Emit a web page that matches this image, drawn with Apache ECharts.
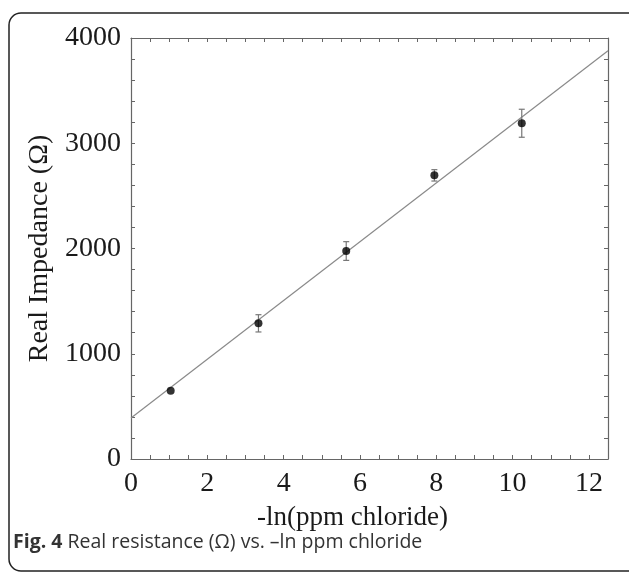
<!DOCTYPE html>
<html>
<head>
<meta charset="utf-8">
<script src="https://cdn.jsdelivr.net/npm/echarts@6/dist/echarts.min.js"></script>
<style>
html,body{margin:0;padding:0;background:#fff;}
#chart{width:629px;height:573px;}
</style>
</head>
<body>
<div id="chart"></div>
<script>
// Data
var xValues = [1.04, 3.34, 5.64, 7.95, 10.24];
var yValues = [649, 1289, 1976, 2695, 3190];
var yErrors = [0, 82, 89, 54, 133];
var fitX = [0, 12.5];
var fitY = [390, 3878];
var xTickLabels = [0, 2, 4, 6, 8, 10, 12];
var yTickLabels = [0, 1000, 2000, 3000, 4000];

var points = xValues.map(function (x, i) { return [x, yValues[i]]; });
var errData = xValues.map(function (x, i) { return [x, yValues[i] - yErrors[i], yValues[i] + yErrors[i]]; });
var fitData = fitX.map(function (x, i) { return [x, fitY[i]]; });

var serif = '"Liberation Serif", "DejaVu Serif", serif';
var axisColor = '#666';

function xAxisBase(pos, showLabels) {
  return {
    type: 'value', position: pos, min: 0, max: 12.5, interval: 0.5,
    axisLine: { show: true, onZero: false, lineStyle: { color: axisColor, width: 1.2 } },
    axisTick: { show: true, inside: true, length: 4, lineStyle: { color: axisColor, width: 1 } },
    splitLine: { show: false },
    axisLabel: {
      show: showLabels, margin: 11, color: '#1a1a1a', fontFamily: serif, fontSize: 28,
      formatter: function (v) { return xTickLabels.indexOf(v) >= 0 ? String(v) : ''; }
    }
  };
}
function yAxisBase(pos, showLabels) {
  return {
    type: 'value', position: pos, min: 0, max: 4000, interval: 200,
    axisLine: { show: true, onZero: false, lineStyle: { color: axisColor, width: 1.2 } },
    axisTick: { show: true, inside: true, length: 4, lineStyle: { color: axisColor, width: 1 } },
    splitLine: { show: false },
    axisLabel: {
      show: showLabels, margin: 10, color: '#1a1a1a', fontFamily: serif, fontSize: 28,
      formatter: function (v) { return yTickLabels.indexOf(v) >= 0 ? String(v) : ''; }
    }
  };
}

var xBottom = xAxisBase('bottom', true);
xBottom.name = '-ln(ppm chloride)';
xBottom.nameLocation = 'middle';
xBottom.nameGap = 45;
xBottom.nameTextStyle = { color: '#1a1a1a', fontFamily: serif, fontSize: 27, padding: [0, 34, 0, 0] };
var yLeft = yAxisBase('left', true);
yLeft.name = 'Real Impedance (\u03A9)';
yLeft.nameLocation = 'middle';
yLeft.nameGap = 64;
yLeft.nameTextStyle = { color: '#1a1a1a', fontFamily: serif, fontSize: 28 };

var chart = echarts.init(document.getElementById('chart'), null, { renderer: 'canvas' });
chart.setOption({
  backgroundColor: '#fff',
  animation: false,
  grid: { left: 131, top: 38, right: 21, bottom: 114, containLabel: false },
  xAxis: [xBottom, xAxisBase('top', false)],
  yAxis: [yLeft, yAxisBase('right', false)],
  graphic: [
    {
      type: 'rect', z: -1,
      shape: { x: 9, y: 13, width: 700, height: 558, r: 12 },
      style: { fill: 'none', stroke: '#222', lineWidth: 1.5 }
    },
    {
      type: 'text', left: 13, top: 532,
      style: {
        text: '{b|Fig. 4} Real resistance (\u03A9) vs. \u2013ln ppm chloride',
        fontFamily: '"Open Sans", "Noto Sans", sans-serif', fontSize: 19.5, fill: '#333',
        rich: { b: { fontWeight: 'bold', fontFamily: '"Open Sans", "Noto Sans", sans-serif', fontSize: 19.5, fill: '#333' } }
      }
    }
  ],
  series: [
    {
      type: 'line', data: fitData, xAxisIndex: 0, yAxisIndex: 0,
      showSymbol: false, symbol: 'none', silent: true, z: 1,
      lineStyle: { color: '#8a8a8a', width: 1.2 }
    },
    {
      type: 'custom', xAxisIndex: 0, yAxisIndex: 0, z: 2, silent: true,
      data: errData,
      renderItem: function (params, api) {
        var x = api.value(0);
        var lo = api.coord([x, api.value(1)]);
        var hi = api.coord([x, api.value(2)]);
        if (Math.abs(hi[1] - lo[1]) < 1) return null;
        var cap = 3;
        var st = { stroke: '#777', lineWidth: 1.2 };
        return {
          type: 'group',
          children: [
            { type: 'line', shape: { x1: lo[0], y1: lo[1], x2: hi[0], y2: hi[1] }, style: st },
            { type: 'line', shape: { x1: lo[0] - cap, y1: lo[1], x2: lo[0] + cap, y2: lo[1] }, style: st },
            { type: 'line', shape: { x1: hi[0] - cap, y1: hi[1], x2: hi[0] + cap, y2: hi[1] }, style: st }
          ]
        };
      }
    },
    {
      type: 'scatter', data: points, xAxisIndex: 0, yAxisIndex: 0, z: 3,
      symbol: 'circle', symbolSize: 8,
      itemStyle: { color: '#000' }
    }
  ]
});
</script>
</body>
</html>
